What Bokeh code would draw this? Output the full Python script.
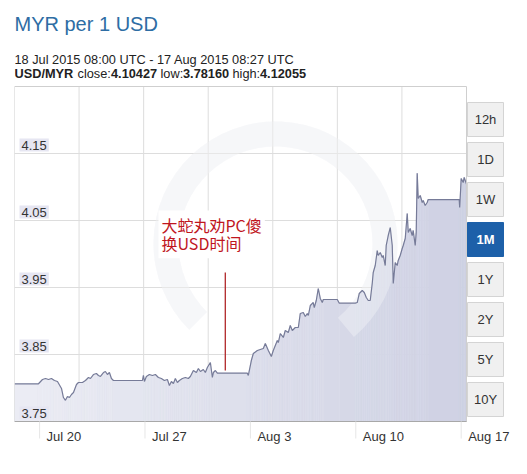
import math
import pandas as pd
from bokeh.plotting import figure
from bokeh.models import Range1d
from bokeh.core.properties import value
from bokeh.embed import file_html
from bokeh.resources import INLINE

# ---------------- data ----------------
start_time = "2015-07-18 08:00"
end_time = "2015-08-17 08:27"

# hours since start_time
hours = [0, 38.2, 44.6, 49.4, 54.2, 58.9, 63.7, 68.5, 74.9, 78.0,
         81.2, 84.4, 87.6, 90.8, 94.0, 98.8, 101.9, 108.3, 113.1, 117.9,
         121.1, 125.8, 130.6, 133.8, 137.0, 141.8, 144.9, 148.1, 151.3, 154.5,
         157.7, 203.9, 205.5, 207.1, 210.2, 215.0, 219.8, 224.6, 229.4, 234.1,
         238.9, 243.7, 246.9, 250.1, 253.3, 256.4, 259.6, 262.8, 267.6, 272.4,
         277.1, 280.3, 285.1, 289.9, 293.1, 296.3, 301.0, 304.2, 307.4, 312.2,
         315.4, 317.0, 320.2, 323.3, 371.1, 372.7, 377.5, 380.7, 387.1, 391.8,
         396.6, 399.8, 404.6, 409.4, 412.5, 418.9, 420.5, 423.7, 428.5, 431.6,
         436.4, 439.6, 442.8, 447.6, 452.4, 455.5, 460.3, 463.5, 466.7, 468.3,
         471.5, 476.2, 477.8, 481.0, 484.2, 487.4, 490.6, 492.2, 514.5, 517.7,
         543.1, 546.3, 549.5, 554.3, 557.5, 560.7, 563.9, 567.0, 570.2, 571.8,
         575.0, 578.2, 579.8, 583.0, 586.2, 587.7, 590.9, 592.5, 595.7, 598.9,
         602.1, 603.7, 606.9, 610.0, 611.6, 614.8, 618.0, 619.6, 622.8, 626.0,
         627.6, 630.7, 633.9, 635.5, 638.7, 640.3, 641.9, 643.5, 646.7, 649.9,
         651.5, 654.6, 657.8, 659.4, 708.8, 709.6, 712.0, 715.2, 716.8, 720.4]

rates = [3.8063, 3.8063, 3.8127, 3.8142, 3.8127, 3.8142, 3.8112, 3.8097, 3.7993, 3.7858,
         3.7816, 3.7873, 3.7858, 3.7903, 3.7933, 3.8052, 3.8082, 3.8082, 3.8112, 3.8157,
         3.8142, 3.8201, 3.8216, 3.8187, 3.8172, 3.8231, 3.8246, 3.8201, 3.8231, 3.8142,
         3.8112, 3.8112, 3.8187, 3.8097, 3.8172, 3.8201, 3.8187, 3.8201, 3.8157, 3.8142,
         3.8112, 3.8127, 3.8037, 3.8097, 3.8067, 3.8142, 3.8082, 3.8112, 3.8142, 3.8157,
         3.8142, 3.8172, 3.8261, 3.8231, 3.8291, 3.8246, 3.8276, 3.8231, 3.8306, 3.8381,
         3.8157, 3.8231, 3.8261, 3.8221, 3.8221, 3.8187, 3.8410, 3.8515, 3.8560, 3.8575,
         3.8590, 3.8664, 3.8560, 3.8470, 3.8560, 3.8709, 3.8679, 3.8813, 3.8754, 3.8858,
         3.8828, 3.8933, 3.8858, 3.8903, 3.8903, 3.9112, 3.9127, 3.9067, 3.9112, 3.9082,
         3.9231, 3.9276, 3.9201, 3.9306, 3.9485, 3.9336, 3.9276, 3.9321, 3.9321, 3.9266,
         3.9266, 3.9276, 3.9410, 3.9455, 3.9425, 3.9351, 3.9306, 3.9306, 3.9560, 3.9724,
         3.9828, 4.0052, 3.9978, 4.0022, 3.9948, 3.9978, 3.9828, 4.0127, 4.0276, 4.0395,
         4.0127, 3.9560, 3.9873, 3.9828, 3.9903, 3.9978, 4.0082, 4.0127, 4.0231, 4.0604,
         4.0321, 4.0381, 4.0276, 4.0351, 4.0127, 4.0321, 4.1206, 4.0828, 4.0873, 4.0769,
         4.0798, 4.0724, 4.0769, 4.0813, 4.0813, 4.0694, 4.1127, 4.1067, 4.1142, 4.1043]

x_tick_dates = ["2015-07-20", "2015-07-27", "2015-08-03", "2015-08-10", "2015-08-17"]
x_tick_labels = ["Jul 20", "Jul 27", "Aug 3", "Aug 10", "Aug 17"]
y_ticks = [3.75, 3.85, 3.95, 4.05, 4.15]
y_tick_labels = ["3.75", "3.85", "3.95", "4.05", "4.15"]
y_min, y_max = 3.75, 4.25

title_text = "MYR per 1 USD"
period_text = "18 Jul 2015 08:00 UTC - 17 Aug 2015 08:27 UTC"
pair = "USD/MYR"
close_val, low_val, high_val = "4.10427", "3.78160", "4.12055"

anno_time = "2015-08-01 08:00"
anno_low, anno_high = 3.8261, 3.9724
anno_text_time = "2015-07-27 21:30"
anno_text_value = 4.0545
anno_text = "大蛇丸劝PC傻\n换USD时间"

buttons = ["12h", "1D", "1W", "1M", "1Y", "2Y", "5Y", "10Y"]
active_button = "1M"

# ---------------- layout constants (pixels) ----------------
FONT = "Liberation Sans"
W, H = 519, 466
PLOT_L, PLOT_R, PLOT_T, PLOT_B = 14, 466, 86, 421   # chart area
FRAME_R = W                                          # frame also holds buttons / last label

start = pd.Timestamp(start_time)
end = pd.Timestamp(end_time)
start_ms = start.value / 1e6
end_ms = end.value / 1e6
span_ms = end_ms - start_ms
ms_per_px = span_ms / (PLOT_R - PLOT_L)
val_per_px = (y_max - y_min) / (PLOT_B - PLOT_T)

dates = start + pd.to_timedelta(hours, unit="h")
t_ms = [d.value / 1e6 for d in dates]
tick_ms = [pd.Timestamp(d).value / 1e6 for d in x_tick_dates]

p = figure(width=W, height=H, title=None, x_axis_location=None, y_axis_location=None,
           x_range=Range1d(start_ms, end_ms + (FRAME_R - PLOT_R) * ms_per_px),
           y_range=Range1d(y_min - (H - PLOT_B) * val_per_px, y_min + PLOT_B * val_per_px),
           output_backend="svg", toolbar_location=None,
           min_border_left=PLOT_L, min_border_right=W - FRAME_R,
           min_border_top=0, min_border_bottom=0)
p.extra_x_ranges = {"px": Range1d(PLOT_L, FRAME_R)}
p.extra_y_ranges = {"px": Range1d(H, 0)}
p.outline_line_color = None
p.grid.visible = False
p.background_fill_color = "white"
p.border_fill_color = "white"

# faint watermark ring (under the area)
wm = dict(x=[275], y=[243], inner_radius=97, outer_radius=122,
          start_angle=math.radians(-50), end_angle=math.radians(225),
          direction="anticlock", x_range_name="px", y_range_name="px", line_color=None)
p.annular_wedge(fill_color="#7f88aa", fill_alpha=0.09, **wm)

# grid lines (7 equal vertical divisions, horizontal at y ticks)
grid_ms = [start_ms + k * span_ms / 7 for k in range(1, 7)]
p.segment(x0=grid_ms, y0=[y_min] * 6, x1=grid_ms, y1=[y_max] * 6,
          line_color="#dddddd", line_width=1)
p.segment(x0=[start_ms] * 4, y0=y_ticks[1:], x1=[end_ms] * 4, y1=y_ticks[1:],
          line_color="#dddddd", line_width=1)

# area with left-to-right shading + line
c0, c1 = (236, 237, 244), (206, 209, 227)
xs, ys, cols = [], [], []
for i in range(len(t_ms) - 1):
    f = ((t_ms[i] + t_ms[i + 1]) / 2 - start_ms) / span_ms
    c = tuple(int(round(a + (b - a) * f)) for a, b in zip(c0, c1))
    xs.append([t_ms[i], t_ms[i + 1], t_ms[i + 1], t_ms[i]])
    ys.append([rates[i], rates[i + 1], y_min, y_min])
    cols.append("#%02x%02x%02x" % c)
p.patches(xs=xs, ys=ys, fill_color=cols, line_color=cols, line_width=0.6)
# watermark shows lighter through the area
p.annular_wedge(fill_color="white", fill_alpha=0.3, **wm)
p.line(x=t_ms, y=rates, line_color="#767b98", line_width=1.2)

# chart border
p.quad(left=[start_ms], right=[end_ms], bottom=[y_min], top=[y_max],
       fill_color=None, line_color="#cfcfcf", line_width=1)

# x axis: line, ticks, labels
p.segment(x0=[start_ms], y0=[y_min], x1=[end_ms], y1=[y_min],
          line_color="#a8a8a8", line_width=1)
p.segment(x0=tick_ms, y0=[PLOT_B] * len(tick_ms), x1=tick_ms, y1=[PLOT_B + 17] * len(tick_ms),
          y_range_name="px", line_color="#e6e6e6", line_width=1)
p.text(x=tick_ms, y=[PLOT_B + 15] * len(tick_ms), text=x_tick_labels, y_range_name="px",
       x_offset=7, text_baseline="alphabetic", text_align="left",
       text_font=value(FONT), text_font_size="13px", text_color="#333333")

# y labels inside plot
p.text(x=[start_ms] * len(y_ticks), y=y_ticks, text=y_tick_labels, x_offset=5, y_offset=-2,
       text_baseline="bottom", text_align="left", text_font=value(FONT),
       text_font_size="13px", text_color="#333333",
       background_fill_color="#e6e6f2", padding=2)

# annotation
at_ms = pd.Timestamp(anno_time).value / 1e6
p.segment(x0=[at_ms], y0=[anno_low], x1=[at_ms], y1=[anno_high],
          line_color="#b0272a", line_width=1.3)
p.text(x=[pd.Timestamp(anno_text_time).value / 1e6], y=[anno_text_value], text=[anno_text],
       y_offset=-7,
       text_font=value("Noto Sans CJK SC"), text_font_size="16px", text_color="#c0161e",
       text_baseline="top", text_align="left", text_line_height=0.74,
       background_fill_color="white", padding=3)

# header (pixel coordinates)
def hdr(x, y, text, size="12.75px", style="normal", color="#222222"):
    p.text(x=[x], y=[y], text=[text], x_range_name="px", y_range_name="px",
           text_font=value(FONT), text_font_size=size, text_font_style=style,
           text_color=color, text_baseline="alphabetic", text_align="left")

hdr(14, 23, title_text, size="20px", color="#2e6da4")
hdr(14, 59, period_text)
hdr(14, 73, pair, style="bold")
hdr(77, 73, "close:")
hdr(110.5, 73, close_val, style="bold")
hdr(160, 73, "low:")
hdr(182.5, 73, low_val, style="bold")
hdr(232, 73, "high:")
hdr(259.5, 73, high_val, style="bold")

# range buttons (pixel coordinates)
tops = [102 + 40 * i for i in range(len(buttons))]
active = [b == active_button for b in buttons]
p.quad(left=[467] * len(buttons), right=[503] * len(buttons), top=tops,
       bottom=[t + 34 for t in tops], x_range_name="px", y_range_name="px",
       fill_color=["#1d60a9" if a else "#f0f0f0" for a in active],
       line_color=["#1d60a9" if a else "#d4d4d4" for a in active], line_width=1)
p.text(x=[485] * len(buttons), y=[t + 17 for t in tops], text=buttons,
       x_range_name="px", y_range_name="px",
       text_font=value(FONT), text_font_size="13px",
       text_font_style=["bold" if a else "normal" for a in active],
       text_color=["white" if a else "#333333" for a in active],
       text_align="center", text_baseline="middle")

open("out.html", "w").write(file_html(p, INLINE))
